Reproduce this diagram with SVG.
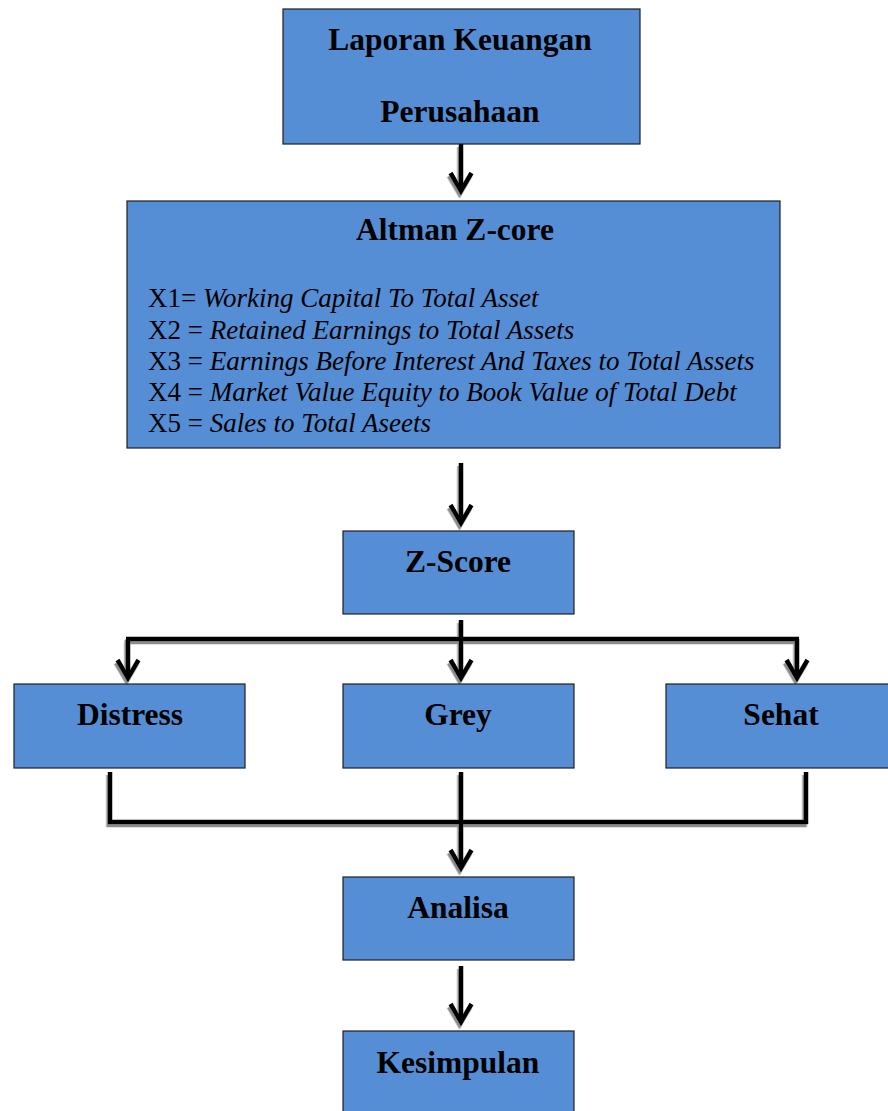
<svg xmlns="http://www.w3.org/2000/svg" width="888" height="1111" viewBox="0 0 888 1111">
<style>
.box{fill:#558ED5;stroke:#1f1f1f;stroke-width:1.2}
.lbl{font-family:"Liberation Serif","Times New Roman",serif;font-weight:bold;font-size:31.5px;fill:#000;text-anchor:middle}
.item{font-family:"Liberation Serif","Times New Roman",serif;font-size:27px;fill:#000}
.it{font-style:italic}
.conn{fill:none;stroke:#000;stroke-width:4.5;stroke-linejoin:miter;stroke-linecap:butt}
.arr{marker-end:url(#chev)}
</style>
<defs>
<marker id="chev" markerUnits="userSpaceOnUse" markerWidth="40" markerHeight="40" viewBox="-30 -20 40 40" refX="0" refY="0" orient="auto" overflow="visible">
<path d="M-18,-10.5 L0,0 L-18,10.5" fill="none" stroke="#000" stroke-width="4.5" stroke-linejoin="miter" stroke-miterlimit="10"/>
</marker>
<filter id="shadow" x="-5%" y="-5%" width="110%" height="110%">
<feDropShadow dx="-1.5" dy="3" stdDeviation="0.4" flood-color="#8c8c8c" flood-opacity="1"/>
</filter>
</defs>
<rect width="888" height="1111" fill="#fff"/>
<g id="connectors" filter="url(#shadow)">
<path class="conn arr" d="M461,144 V191"/>
<path class="conn arr" d="M461,463 V523"/>
<path class="conn arr" d="M461,620 V678"/>
<path class="conn arr" d="M128,639 V678"/>
<path class="conn arr" d="M797,639 V678"/>
<path class="conn" d="M126,639 H799"/>
<path class="conn" d="M110,772 V824"/>
<path class="conn" d="M806,772 V824"/>
<path class="conn" d="M108,822 H808"/>
<path class="conn arr" d="M461,772 V868"/>
<path class="conn arr" d="M461,966 V1022"/>
</g>
<g id="node-laporan">
<rect class="box" x="283" y="9" width="357" height="135"/>
<text class="lbl" x="460" y="50">Laporan Keuangan</text>
<text class="lbl" x="460" y="122">Perusahaan</text>
</g>
<g id="node-altman">
<rect class="box" x="127" y="201" width="653" height="247"/>
<text class="lbl" x="455" y="240">Altman Z-core</text>
<text class="item" x="148" y="307">X1= <tspan class="it">Working Capital To Total Asset</tspan></text>
<text class="item" x="148" y="339">X2 = <tspan class="it">Retained Earnings to Total Assets</tspan></text>
<text class="item" x="148" y="370">X3 = <tspan class="it">Earnings Before Interest And Taxes to Total Assets</tspan></text>
<text class="item" x="148" y="401">X4 = <tspan class="it">Market Value Equity to Book Value of Total Debt</tspan></text>
<text class="item" x="148" y="432">X5 = <tspan class="it">Sales to Total Aseets</tspan></text>
</g>
<g id="node-zscore">
<rect class="box" x="343" y="531" width="231" height="83"/>
<text class="lbl" x="458" y="572">Z-Score</text>
</g>
<g id="node-distress">
<rect class="box" x="14" y="684" width="231" height="84"/>
<text class="lbl" x="130" y="725">Distress</text>
</g>
<g id="node-grey">
<rect class="box" x="343" y="684" width="231" height="84"/>
<text class="lbl" x="458" y="725">Grey</text>
</g>
<g id="node-sehat">
<rect class="box" x="666" y="684" width="231" height="84"/>
<text class="lbl" x="781" y="725">Sehat</text>
</g>
<g id="node-analisa">
<rect class="box" x="343" y="877" width="231" height="83"/>
<text class="lbl" x="458" y="918">Analisa</text>
</g>
<g id="node-kesimpulan">
<rect class="box" x="343" y="1031" width="231" height="84"/>
<text class="lbl" x="458" y="1073">Kesimpulan</text>
</g>
</svg>
